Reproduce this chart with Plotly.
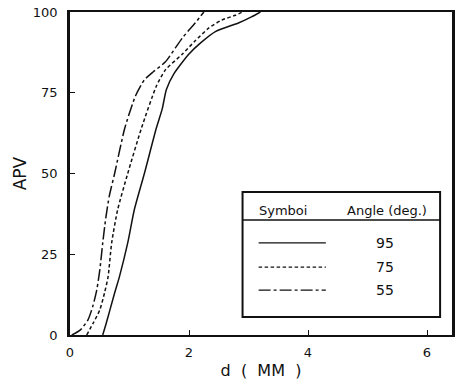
import plotly.graph_objects as go

# Cumulative APV (%) versus distance d (mm) for three angles
d_95 = [0.55, 0.61, 0.67, 0.75, 0.83, 0.97, 1.08, 1.25, 1.45, 1.55, 1.62, 1.75, 2.0, 2.2, 2.45, 2.83, 3.05, 3.2]
apv_95 = [0, 3.7, 7.7, 13, 18, 28.5, 38.7, 50, 64, 70, 76, 81, 87, 90.5, 94, 96.6, 98.5, 100]

d_75 = [0.28, 0.39, 0.5, 0.58, 0.64, 0.7, 0.8, 0.97, 1.2, 1.45, 1.6, 1.89, 2.1, 2.33, 2.55, 2.78, 2.9]
apv_75 = [0, 3.7, 7.7, 13, 18, 28.5, 38.7, 50, 64, 77, 82, 87, 91, 95, 97.5, 99, 100]

d_55 = [0.03, 0.17, 0.3, 0.38, 0.45, 0.5, 0.55, 0.6, 0.66, 0.75, 0.92, 1.1, 1.25, 1.4, 1.6, 1.89, 2.1, 2.25]
apv_55 = [0, 1.5, 4.6, 8.7, 14, 20, 28.5, 36, 43, 50, 64, 74, 79, 81.5, 84.5, 92, 96.5, 100]

angles = ["95", "75", "55"]
dash_styles = ["solid", "3.5px,2.5px", "12px,3px,3px,3px"]

x_ticks = [0, 2, 4, 6]
y_ticks = [0, 25, 50, 75, 100]

FONT = "DejaVu Sans"
INK = "#111111"

fig = go.Figure()
for xs, ys, dash in zip([d_95, d_75, d_55], [apv_95, apv_75, apv_55], dash_styles):
    fig.add_trace(go.Scatter(
        x=xs, y=ys, mode="lines",
        line=dict(color=INK, width=1.5, dash=dash, shape="spline", smoothing=0.6),
        showlegend=False, hoverinfo="skip",
    ))

# Key box: header row plus one sample line per angle
box_x0, box_x1 = 2.9, 6.22
box_y0, box_y1 = 5.6, 44.3
header_y = 38.7
rule_y = 35.6
row_y = [28.5, 21.0, 13.9]
sample_x0, sample_x1 = 3.17, 4.3
value_x = 5.3

shapes = [
    dict(type="rect", xref="x", yref="y", x0=box_x0, x1=box_x1, y0=box_y0, y1=box_y1,
         line=dict(color=INK, width=2), fillcolor="white", layer="above"),
    dict(type="line", xref="x", yref="y", x0=box_x0, x1=box_x1, y0=rule_y, y1=rule_y,
         line=dict(color=INK, width=1.5), layer="above"),
]
for yy, dash in zip(row_y, dash_styles):
    shapes.append(dict(type="line", xref="x", yref="y", x0=sample_x0, x1=sample_x1, y0=yy, y1=yy,
                       line=dict(color=INK, width=1.3, dash=dash), layer="above"))

annotations = [
    dict(x=3.58, y=header_y, xref="x", yref="y", text="Symboi", showarrow=False,
         font=dict(family=FONT, size=13, color=INK)),
    dict(x=5.33, y=header_y, xref="x", yref="y", text="Angle (deg.)", showarrow=False,
         font=dict(family=FONT, size=13, color=INK)),
]
for yy, a in zip(row_y, angles):
    annotations.append(dict(x=value_x, y=yy, xref="x", yref="y", text=a, showarrow=False,
                            font=dict(family=FONT, size=14, color=INK)))

fig.update_layout(
    width=460, height=387,
    margin=dict(l=70, r=5, t=12, b=52),
    paper_bgcolor="white", plot_bgcolor="white",
    shapes=shapes, annotations=annotations,
    font=dict(family=FONT, color=INK),
)
fig.update_xaxes(
    range=[0, 6.42], tickvals=x_ticks, ticktext=[str(v) for v in x_ticks],
    ticks="inside", ticklen=5, tickwidth=1.2, tickcolor=INK, ticklabelstandoff=4,
    showgrid=False, zeroline=False,
    showline=True, linecolor=INK, linewidth=2, mirror=True,
    tickfont=dict(family=FONT, size=13, color=INK),
    title=dict(text="d  (  MM  )", font=dict(family=FONT, size=16, color=INK), standoff=6),
)
fig.update_yaxes(
    range=[0, 100], tickvals=y_ticks, ticktext=[str(v) for v in y_ticks],
    ticks="inside", ticklen=5, tickwidth=1.2, tickcolor=INK, ticklabelstandoff=7,
    showgrid=False, zeroline=False,
    showline=True, linecolor=INK, linewidth=2.5, mirror=True,
    tickfont=dict(family=FONT, size=13, color=INK),
    title=dict(text="APV", font=dict(family=FONT, size=17, color=INK), standoff=2),
)

fig.write_html("out.html")
